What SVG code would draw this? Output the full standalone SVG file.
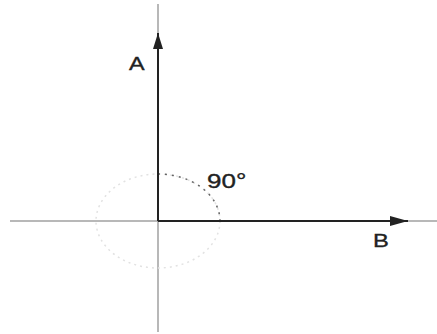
<svg xmlns="http://www.w3.org/2000/svg" width="437" height="334" viewBox="0 0 437 334">
<style>
.axis{stroke:#a0a0a0;stroke-width:1.5;fill:none}
.vec{stroke:#222;stroke-width:2;fill:none}
.lbl{font-family:"Liberation Sans",Arial,sans-serif;fill:#222;stroke:#222;stroke-width:0.35}
.dotl{stroke:#e2e2e2;stroke-width:1.5;stroke-dasharray:2 4;fill:none}
.dotd{stroke:#666;stroke-width:1.5;stroke-dasharray:2 5;fill:none}
</style>
<defs>
<marker id="ahA" viewBox="0 0 16 10" refX="16" refY="5" markerWidth="16" markerHeight="10" markerUnits="userSpaceOnUse" orient="auto">
<path d="M0,0 L16,5 L0,10 Z" fill="#222"/>
</marker>
<marker id="ahB" viewBox="0 0 18 10" refX="18" refY="5" markerWidth="18" markerHeight="10" markerUnits="userSpaceOnUse" orient="auto">
<path d="M0,0 L18,5 L0,10 Z" fill="#222"/>
</marker>
</defs>
<g id="axes">
<line class="axis" x1="10" y1="221" x2="437" y2="221"/>
<line class="axis" x1="158" y1="4" x2="158" y2="332"/>
</g>
<g id="angle">
<ellipse class="dotl" cx="158" cy="221" rx="62" ry="47"/>
<path class="dotd" d="M158,174 A62,47 0 0 1 220,221"/>
</g>
<g id="connectors">
<line id="vecA" class="vec" x1="158" y1="221" x2="158" y2="33" marker-end="url(#ahA)"/>
<line id="vecB" class="vec" x1="158" y1="221" x2="408" y2="221" marker-end="url(#ahB)"/>
</g>
<g id="labelA"><text class="lbl" font-size="18" transform="translate(129,70) scale(1.3,1)">A</text></g>
<g id="labelB"><text class="lbl" font-size="19" transform="translate(373,247) scale(1.25,1)">B</text></g>
<g id="label90"><text class="lbl" font-size="20" transform="translate(207,188) scale(1.3,1)">90°</text></g>
</svg>
